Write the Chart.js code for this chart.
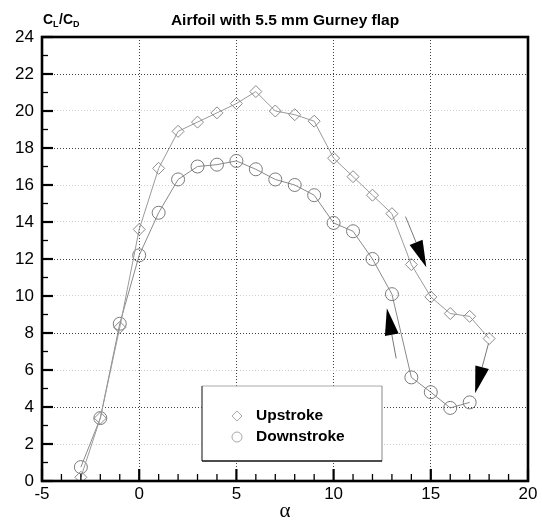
<!DOCTYPE html>
<html>
<head>
<meta charset="utf-8">
<script src="https://cdn.jsdelivr.net/npm/chart.js@4.4.0/dist/chart.umd.min.js"></script>
<style>
  html, body { margin: 0; padding: 0; background: #fff; }
  canvas { display: block; }
</style>
</head>
<body>
<canvas id="ratioChart" width="542" height="520"></canvas>
<script>
  // Angle of attack for each stroke
  const alphaUp = [-3, -2, -1, 0, 1, 2, 3, 4, 5, 6, 7, 8, 9, 10, 11, 12, 13, 14, 15, 16, 17, 18];
  const alphaDown = [-3, -2, -1, 0, 1, 2, 3, 4, 5, 6, 7, 8, 9, 10, 11, 12, 13, 14, 15, 16, 17];

  // CL/CD values
  const upstroke = [0.2, 3.4, 8.3, 13.6, 16.9, 18.9, 19.4, 19.9, 20.4, 21.05, 20.0, 19.8, 19.45, 17.45, 16.45, 15.45, 14.45, 11.7, 9.95, 9.05, 8.9, 7.7];
  const downstroke = [0.75, 3.4, 8.5, 12.2, 14.5, 16.3, 17.0, 17.1, 17.3, 16.85, 16.3, 16.0, 15.45, 13.95, 13.5, 12.0, 10.1, 5.6, 4.8, 3.95, 4.25];

  const seriesNames = ["Upstroke", "Downstroke"];
  const xTicks = [-5, 0, 5, 10, 15, 20];
  const yTicks = [0, 2, 4, 6, 8, 10, 12, 14, 16, 18, 20, 22, 24];

  // direction arrows: [tailX, tailY, tipX, tipY] in data units
  const arrows = [
    [13.70, 14.29, 14.77, 11.55],
    [13.22, 6.63, 12.74, 9.34],
    [17.97, 7.44, 17.28, 4.74]
  ];

  // grid lines that come out darker in the scan
  const darkGridY = [4, 8, 12, 18, 22];

  Chart.defaults.font.family = "'Liberation Sans', Arial, sans-serif";
  Chart.defaults.color = "#000";

  const toPoints = (xs, ys) => xs.map((x, i) => ({ x: x, y: ys[i] }));

  // Function to draw an arrow with a filled head
  const drawArrow = (ctx, x, y, a) => {
    const x0 = x.getPixelForValue(a[0]), y0 = y.getPixelForValue(a[1]);
    const x1 = x.getPixelForValue(a[2]), y1 = y.getPixelForValue(a[3]);
    const ang = Math.atan2(y1 - y0, x1 - x0);
    const len = 27, half = 7;
    const bx = x1 - Math.cos(ang) * len, by = y1 - Math.sin(ang) * len;
    ctx.strokeStyle = "#777";
    ctx.lineWidth = 1;
    ctx.beginPath();
    ctx.moveTo(x0, y0);
    ctx.lineTo(bx, by);
    ctx.stroke();
    ctx.fillStyle = "#000";
    ctx.beginPath();
    ctx.moveTo(x1, y1);
    ctx.lineTo(bx - Math.sin(ang) * half, by + Math.cos(ang) * half);
    ctx.lineTo(bx + Math.sin(ang) * half, by - Math.cos(ang) * half);
    ctx.closePath();
    ctx.fill();
  };

  // Frame, inward ticks, arrows, legend box and y label
  const decorations = {
    id: "decorations",
    afterDraw(chart) {
      const { ctx, chartArea: a, scales: { x, y } } = chart;
      ctx.save();

      arrows.forEach(ar => drawArrow(ctx, x, y, ar));

      // inward tick marks
      ctx.strokeStyle = "#000";
      for (let v = x.min; v <= x.max; v++) {
        const px = x.getPixelForValue(v);
        const major = v % 5 === 0;
        ctx.lineWidth = major ? 2.2 : 1.3;
        ctx.beginPath();
        ctx.moveTo(px, a.bottom);
        ctx.lineTo(px, a.bottom - (major ? 12 : 7));
        ctx.stroke();
      }
      for (let v = y.min; v <= y.max; v++) {
        const py = y.getPixelForValue(v);
        const major = v % 2 === 0;
        ctx.lineWidth = major ? 2.2 : 1.3;
        ctx.beginPath();
        ctx.moveTo(a.left, py);
        ctx.lineTo(a.left + (major ? 11 : 6), py);
        ctx.stroke();
      }

      // plot frame
      ctx.lineWidth = 2.6;
      ctx.strokeRect(a.left, a.top, a.right - a.left, a.bottom - a.top);

      // legend box
      const lx = a.left + 160, ly = a.top + 349, lw = 180, lh = 75;
      ctx.fillStyle = "#fff";
      ctx.fillRect(lx, ly, lw, lh);
      ctx.lineWidth = 1;
      ctx.strokeStyle = "#aaa";
      ctx.beginPath(); ctx.moveTo(lx, ly); ctx.lineTo(lx + lw, ly); ctx.stroke();
      ctx.strokeStyle = "#888";
      ctx.beginPath(); ctx.moveTo(lx + lw, ly); ctx.lineTo(lx + lw, ly + lh); ctx.stroke();
      ctx.lineWidth = 1.3;
      ctx.strokeStyle = "#444";
      ctx.beginPath(); ctx.moveTo(lx, ly); ctx.lineTo(lx, ly + lh); ctx.stroke();
      ctx.strokeStyle = "#111";
      ctx.beginPath(); ctx.moveTo(lx, ly + lh); ctx.lineTo(lx + lw, ly + lh); ctx.stroke();

      const styles = ["rectRot", "circle"];
      ctx.font = "bold 15.5px 'Liberation Sans', Arial, sans-serif";
      ctx.textBaseline = "middle";
      seriesNames.forEach((name, i) => {
        const cy = ly + 30 + i * 21;
        ctx.strokeStyle = "#aaa";
        ctx.fillStyle = "rgba(255,255,255,0)";
        ctx.lineWidth = 1;
        Chart.helpers.drawPoint(ctx, { pointStyle: styles[i], radius: 5, borderWidth: 1 }, lx + 35, cy);
        ctx.fillStyle = "#000";
        ctx.fillText(name, lx + 54, cy);
      });

      // CL/CD label
      ctx.textBaseline = "alphabetic";
      ctx.fillStyle = "#000";
      let tx = 43;
      const big = "bold 14px 'Liberation Sans', Arial, sans-serif";
      const small = "bold 9px 'Liberation Sans', Arial, sans-serif";
      [["C", big, 24], ["L", small, 27], ["/C", big, 24], ["D", small, 27]].forEach(p => {
        ctx.font = p[1];
        ctx.fillText(p[0], tx, p[2]);
        tx += ctx.measureText(p[0]).width + (p[1] === small ? 0.5 : 0);
      });

      ctx.restore();
    }
  };

  const gridColor = (isDark) => isDark ? "rgba(0,0,0,0.75)" : "#cfcfcf";

  new Chart(document.getElementById("ratioChart"), {
    type: "line",
    data: {
      datasets: [
        {
          label: seriesNames[0],
          data: toPoints(alphaUp, upstroke),
          borderColor: "#9a9a9a",
          borderWidth: 1,
          pointStyle: "rectRot",
          pointRadius: 6,
          pointBorderColor: "#8a8a8a",
          pointBackgroundColor: "rgba(255,255,255,0)",
          pointBorderWidth: 1,
          tension: 0
        },
        {
          label: seriesNames[1],
          data: toPoints(alphaDown, downstroke),
          borderColor: "#8a8a8a",
          borderWidth: 1,
          pointStyle: "circle",
          pointRadius: 6.5,
          pointBorderColor: "#7a7a7a",
          pointBackgroundColor: "rgba(255,255,255,0)",
          pointBorderWidth: 1,
          tension: 0
        }
      ]
    },
    options: {
      responsive: false,
      devicePixelRatio: 1,
      animation: false,
      layout: { padding: { left: 0, right: 14, top: 0, bottom: 0 } },
      plugins: {
        legend: { display: false },
        tooltip: { enabled: false },
        title: {
          display: true,
          text: "Airfoil with 5.5 mm Gurney flap",
          fullSize: false,
          font: { size: 15.5, weight: "bold", lineHeight: 1.2 },
          padding: { top: 11, bottom: 7.4 },
          color: "#000"
        }
      },
      scales: {
        x: {
          type: "linear",
          min: xTicks[0],
          max: xTicks[xTicks.length - 1],
          afterFit: s => { s.height = 39; },
          afterBuildTicks: s => { s.ticks = xTicks.map(v => ({ value: v })); },
          ticks: { font: { size: 17 }, padding: 3, maxRotation: 0, color: "#000" },
          grid: {
            drawTicks: false,
            lineWidth: 1,
            color: c => (c.tick && (c.tick.value === xTicks[0] || c.tick.value === xTicks[xTicks.length - 1])) ? "rgba(0,0,0,0)" : gridColor(true)
          },
          border: { display: false, dash: [1, 2] },
          title: {
            display: true,
            text: "α",
            font: { family: "'Liberation Serif', 'DejaVu Serif', serif", size: 21, lineHeight: 0.8 },
            padding: 0,
            color: "#000"
          }
        },
        y: {
          min: yTicks[0],
          max: yTicks[yTicks.length - 1],
          afterFit: s => { s.width = 42; },
          afterBuildTicks: s => { s.ticks = yTicks.map(v => ({ value: v })); },
          ticks: { font: { size: 17 }, padding: 8, color: "#000" },
          grid: {
            drawTicks: false,
            lineWidth: 1,
            color: c => {
              if (!c.tick || c.tick.value === yTicks[0] || c.tick.value === yTicks[yTicks.length - 1]) return "rgba(0,0,0,0)";
              return gridColor(darkGridY.includes(c.tick.value));
            }
          },
          border: { display: false, dash: [1, 2] }
        }
      }
    },
    plugins: [decorations]
  });
</script>
</body>
</html>
